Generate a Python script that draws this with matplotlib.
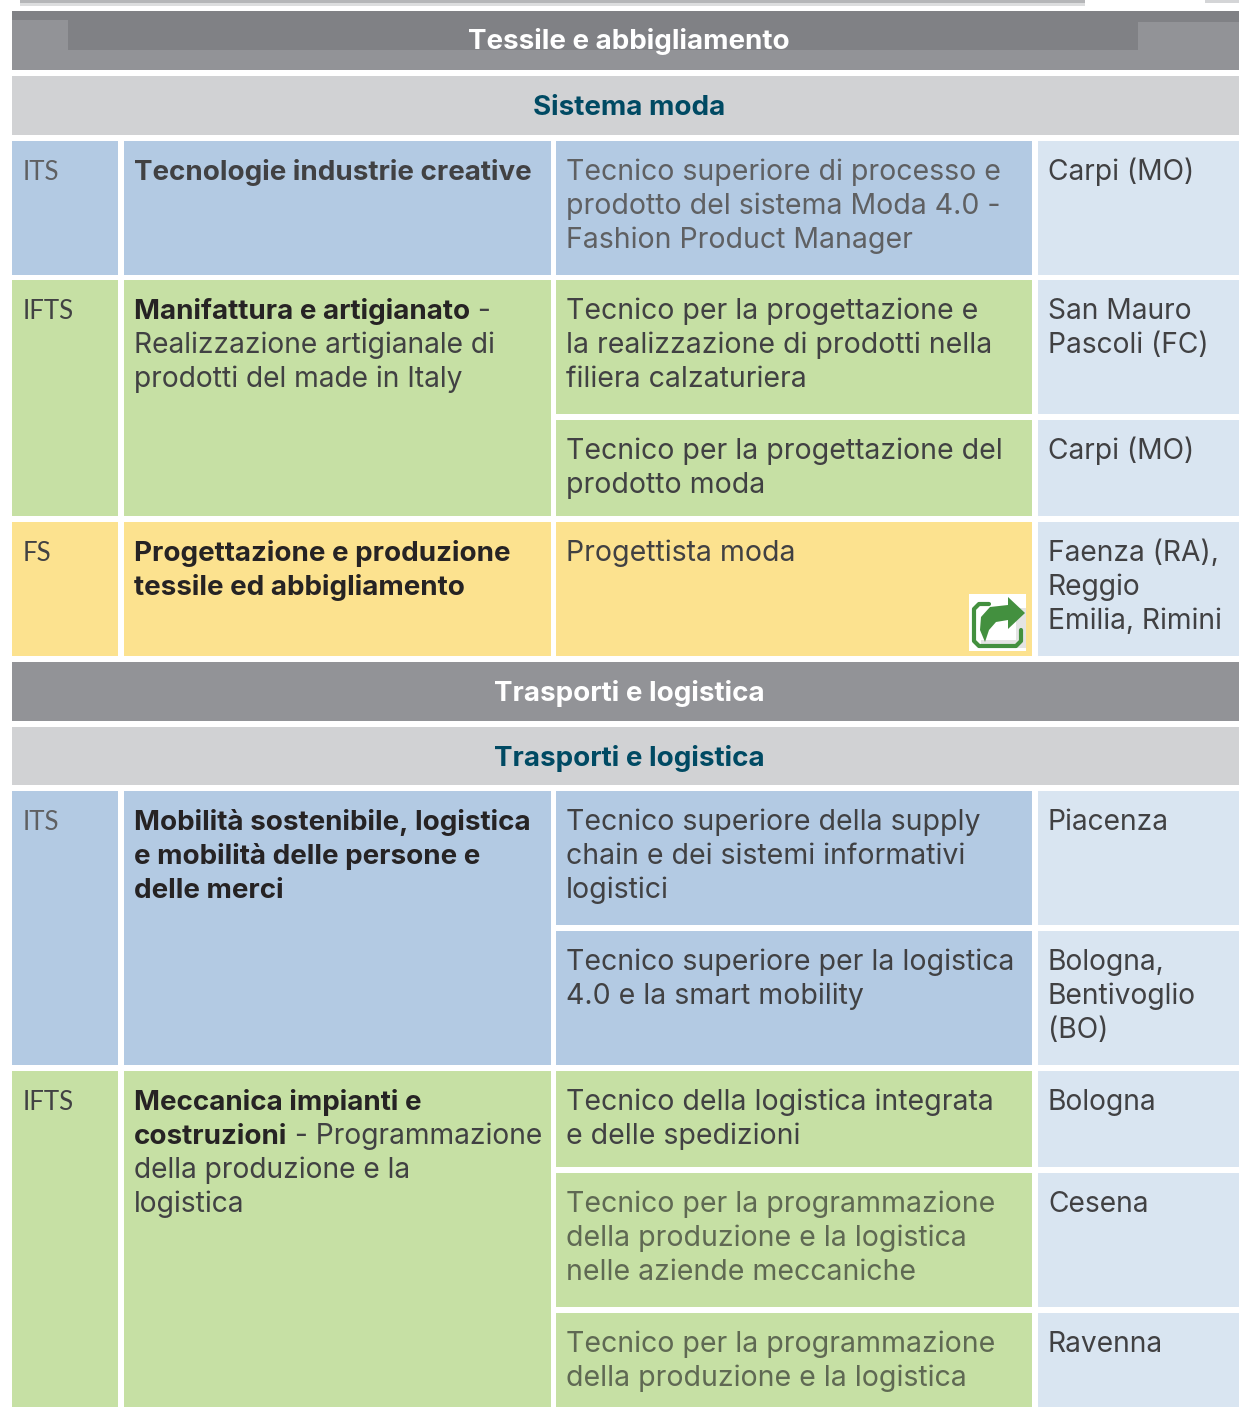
import matplotlib
matplotlib.use('Agg')
import matplotlib.pyplot as plt
from matplotlib.patches import Rectangle, Polygon

FONT = 'Inter'
SIZE = 20.3
SIZE_COURSE = 20.5
SIZE_BOLD = 20.0
SIZE_LEVEL = 18.5
GREY = '#5f6062'
DARK = '#414143'
BLACK = '#262324'
OLIVE = '#5f6953'
TEAL = '#004a63'

BLUE = '#b3cae3'
GREEN = '#c6e0a4'
YELLOW = '#fce28f'
PALE = '#d9e5f1'
HEAD = '#929397'
HEAD_DARK = '#808185'
SUB = '#d1d2d4'

# column edges
col_x = [(12, 118), (124, 551), (556, 1032), (1038, 1239)]

# full width bands: top, bottom, colour, text, text colour
band_top = [11, 76, 662, 727]
band_bot = [70, 135, 721, 785]
band_col = [HEAD, SUB, HEAD, SUB]
band_txt = ['Tessile e abbigliamento', 'Sistema moda', 'Trasporti e logistica', 'Trasporti e logistica']
band_txt_col = ['white', TEAL, 'white', TEAL]
band_base = [49, 115, 701, 766]

# groups: level + area cells
grp_top = [141, 280, 522, 791, 1071]
grp_bot = [275, 516, 656, 1065, 1407]
grp_col = [BLUE, GREEN, YELLOW, BLUE, GREEN]
grp_lvl = ['ITS', 'IFTS', 'FS', 'ITS', 'IFTS']
grp_lvl_col = [GREY, DARK, DARK, GREY, DARK]

# area text, every line is a list of (text, bold)
grp_area = [
    [[('Tecnologie industrie creative', True)]],
    [[('Manifattura e artigianato', True), (' -', False)],
     [('Realizzazione artigianale di', False)],
     [('prodotti del made in Italy', False)]],
    [[('Progettazione e produzione', True)],
     [('tessile ed abbigliamento', True)]],
    [[('Mobilità sostenibile, logistica', True)],
     [('e mobilità delle persone e', True)],
     [('delle merci', True)]],
    [[('Meccanica impianti e', True)],
     [('costruzioni', True), (' - Programmazione', False)],
     [('della produzione e la', False)],
     [('logistica', False)]],
]
grp_area_col = [DARK, BLACK, BLACK, BLACK, BLACK]

# course rows
row_top = [141, 280, 420, 522, 791, 931, 1071, 1173, 1313]
row_bot = [275, 414, 516, 656, 925, 1065, 1167, 1307, 1407]
row_col = [BLUE, GREEN, GREEN, YELLOW, BLUE, BLUE, GREEN, GREEN, GREEN]
row_txt_col = [GREY, DARK, DARK, DARK, DARK, DARK, DARK, OLIVE, OLIVE]
row_course = [
    ['Tecnico superiore di processo e', 'prodotto del sistema Moda 4.0 -', 'Fashion Product Manager'],
    ['Tecnico per la progettazione e', 'la realizzazione di prodotti nella', 'filiera calzaturiera'],
    ['Tecnico per la progettazione del', 'prodotto moda'],
    ['Progettista moda'],
    ['Tecnico superiore della supply', 'chain e dei sistemi informativi', 'logistici'],
    ['Tecnico superiore per la logistica', '4.0 e la smart mobility'],
    ['Tecnico della logistica integrata', 'e delle spedizioni'],
    ['Tecnico per la programmazione', 'della produzione e la logistica', 'nelle aziende meccaniche'],
    ['Tecnico per la programmazione', 'della produzione e la logistica'],
]
row_city = [
    ['Carpi (MO)'],
    ['San Mauro', 'Pascoli (FC)'],
    ['Carpi (MO)'],
    ['Faenza (RA),', 'Reggio', 'Emilia, Rimini'],
    ['Piacenza'],
    ['Bologna,', 'Bentivoglio', '(BO)'],
    ['Bologna'],
    ['Cesena'],
    ['Ravenna'],
]

fig = plt.figure(figsize=(12.39, 14.07), dpi=100)
ax = fig.add_axes([0, 0, 1, 1])
ax.set_xlim(0, 1239)
ax.set_ylim(1407, 0)
ax.axis('off')


def box(x0, x1, y0, y1, c, z=1):
    ax.add_patch(Rectangle((x0, y0), x1 - x0, y1 - y0, fc=c, ec='none', zorder=z))


def put(x, y, s, c, bold=False, ha='left', size=None):
    if size is None:
        size = SIZE_BOLD if bold else SIZE
    return ax.text(x, y, s, color=c, fontsize=size, family=FONT,
                   va='baseline', ha=ha, fontweight='bold' if bold else 'normal', zorder=5)


# shadow of the page piece above the table
box(20, 1085, 0, 3, '#b5b6b8')
box(20, 1085, 3, 6, '#dcddde')
box(1205, 1239, 0, 3, '#d4d5d7')

for i in range(len(band_top)):
    box(12, 1239, band_top[i], band_bot[i], band_col[i])
    put(629, band_base[i], band_txt[i], band_txt_col[i], True, 'center')

# darker pieces of the first band
box(12, 1239, 11, 20, HEAD_DARK, 2)
box(68, 1138, 20, 50, HEAD_DARK, 2)
box(1138, 1239, 20, 22, HEAD_DARK, 2)

renderer = fig.canvas.get_renderer()
for i in range(len(grp_top)):
    box(col_x[0][0], col_x[0][1], grp_top[i], grp_bot[i], grp_col[i])
    box(col_x[1][0], col_x[1][1], grp_top[i], grp_bot[i], grp_col[i])
    ax.text(23, grp_top[i] + 38.6, grp_lvl[i], color=grp_lvl_col[i], fontsize=SIZE_LEVEL,
            family='Lato', va='baseline', zorder=5)
    for n, line in enumerate(grp_area[i]):
        x = 134
        y = grp_top[i] + 39 + n * 34
        for s, bold in line:
            t = put(x, y, s, grp_area_col[i] if bold else DARK, bold)
            # trailing spaces count, so measure with a stand-in
            t.set_text(s.replace(' ', '\u00a0'))
            x += t.get_window_extent(renderer).width

for i in range(len(row_top)):
    box(col_x[2][0], col_x[2][1], row_top[i], row_bot[i], row_col[i])
    box(col_x[3][0], col_x[3][1], row_top[i], row_bot[i], PALE)
    for n, s in enumerate(row_course[i]):
        put(566, row_top[i] + 38.7 + n * 34, s, row_txt_col[i], size=SIZE_COURSE)
    for n, s in enumerate(row_city[i]):
        put(1048, row_top[i] + 38.7 + n * 34, s, DARK)

# link icon
box(969, 1026, 594, 651, 'white', 6)
box(981, 1026, 608, 648, '#e4e4e4', 6)
box(981, 1016, 606, 640, 'white', 6)
ICON = '#43903f'
ax.plot([989, 979, 974, 974, 979, 1016, 1021, 1021], [604, 604, 609, 641, 646, 646, 641, 630],
        color=ICON, lw=3.0, zorder=7, solid_capstyle='round')
ax.add_patch(Polygon([[1008, 597], [1025, 613], [1008, 629], [1008, 620], [996, 622], [989, 630],
                      [985, 642], [980, 630], [981, 617], [990, 607], [1008, 605]],
                     fc=ICON, ec='none', zorder=7))

fig.savefig('out.png', dpi=100)
